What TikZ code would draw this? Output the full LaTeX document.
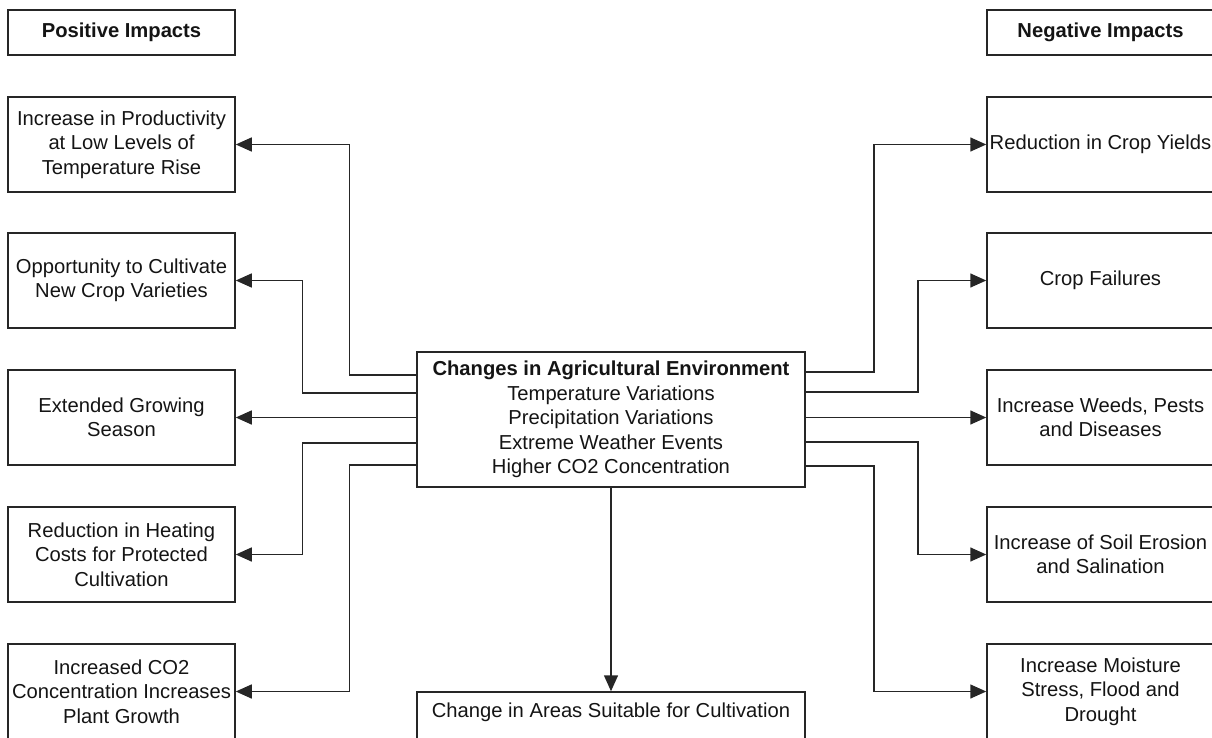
\documentclass[tikz,border=0pt]{standalone}
\usepackage{fontspec}
\setmainfont{Liberation Sans}
\usetikzlibrary{arrows.meta,calc}
\definecolor{linecol}{HTML}{262626}
\definecolor{txtcol}{HTML}{141414}
\begin{document}
\begin{tikzpicture}[x=1pt,y=-1pt,
  box/.style={draw=linecol, line width=1.5pt, rectangle, inner sep=0pt,
    minimum width=227pt, minimum height=95pt, align=center, text=txtcol,
    font=\fontsize{20.2}{24.5}\selectfont},
  headbox/.style={box, minimum height=45pt, font=\fontsize{20.2}{24.5}\selectfont\bfseries},
  centerbox/.style={box, minimum width=388pt, minimum height=135pt},
  lbl/.style={inner sep=0pt, text=txtcol, align=center, font=\fontsize{20.2}{24.5}\selectfont},
  conn/.style={draw=linecol, line width=1.5pt, -{Triangle[length=16pt,width=14pt]}}]
\useasboundingbox (0,0) rectangle (1212,738);
\clip (0,0) rectangle (1212,738);
% headers
\node[headbox] (ph) at (121.5,32.5) {Positive Impacts};
\node[headbox] (nh) at (1100.5,32.5) {Negative Impacts};
% left boxes
\node[box] (p1) at (121.5,144.5) {Increase in Productivity\\at Low Levels of\\Temperature Rise};
\node[box] (p2) at (121.5,280.5) {Opportunity to Cultivate\\New Crop Varieties};
\node[box] (p3) at (121.5,417.5) {Extended Growing\\Season};
\node[box] (p4) at (121.5,554.5) {Reduction in Heating\\Costs for Protected\\Cultivation};
\node[box] (p5) at (121.5,691.5) {Increased CO2\\Concentration Increases\\Plant Growth};
% right boxes
\node[box] (n1) at (1100.5,144.5) {Reduction in Crop Yields};
\node[box] (n2) at (1100.5,280.5) {Crop Failures};
\node[box] (n3) at (1100.5,417.5) {Increase Weeds, Pests\\and Diseases};
\node[box] (n4) at (1100.5,554.5) {Increase of Soil Erosion\\and Salination};
\node[box] (n5) at (1100.5,691.5) {Increase Moisture\\Stress, Flood and\\Drought};
% center
\node[centerbox] (c) at (611,419.5) {\textbf{Changes in Agricultural Environment}\\Temperature Variations\\Precipitation Variations\\Extreme Weather Events\\Higher CO2 Concentration};
% bottom
\node[box, minimum width=388pt] (b) at (611,739.5) {};
\node[lbl] (bl) at (611,712) {Change in Areas Suitable for Cultivation};
% left connectors
\draw[conn] ($(c.west)+(0,-44.5)$) -- ++(-67,0) |- (p1.east);
\draw[conn] ($(c.west)+(0,-26.5)$) -- ++(-114,0) |- (p2.east);
\draw[conn] (c.west |- p3.east) -- (p3.east);
\draw[conn] ($(c.west)+(0,23.5)$) -- ++(-114,0) |- (p4.east);
\draw[conn] ($(c.west)+(0,45.5)$) -- ++(-67,0) |- (p5.east);
% right connectors
\draw[conn] ($(c.east)+(0,-47.5)$) -- ++(68,0) |- (n1.west);
\draw[conn] ($(c.east)+(0,-27.5)$) -- ++(112,0) |- (n2.west);
\draw[conn] (c.east |- n3.west) -- (n3.west);
\draw[conn] ($(c.east)+(0,22.5)$) -- ++(112,0) |- (n4.west);
\draw[conn] ($(c.east)+(0,46.5)$) -- ++(68,0) |- (n5.west);
% bottom connector
\draw[conn] (c.south) -- (b.north);
\end{tikzpicture}
\end{document}
